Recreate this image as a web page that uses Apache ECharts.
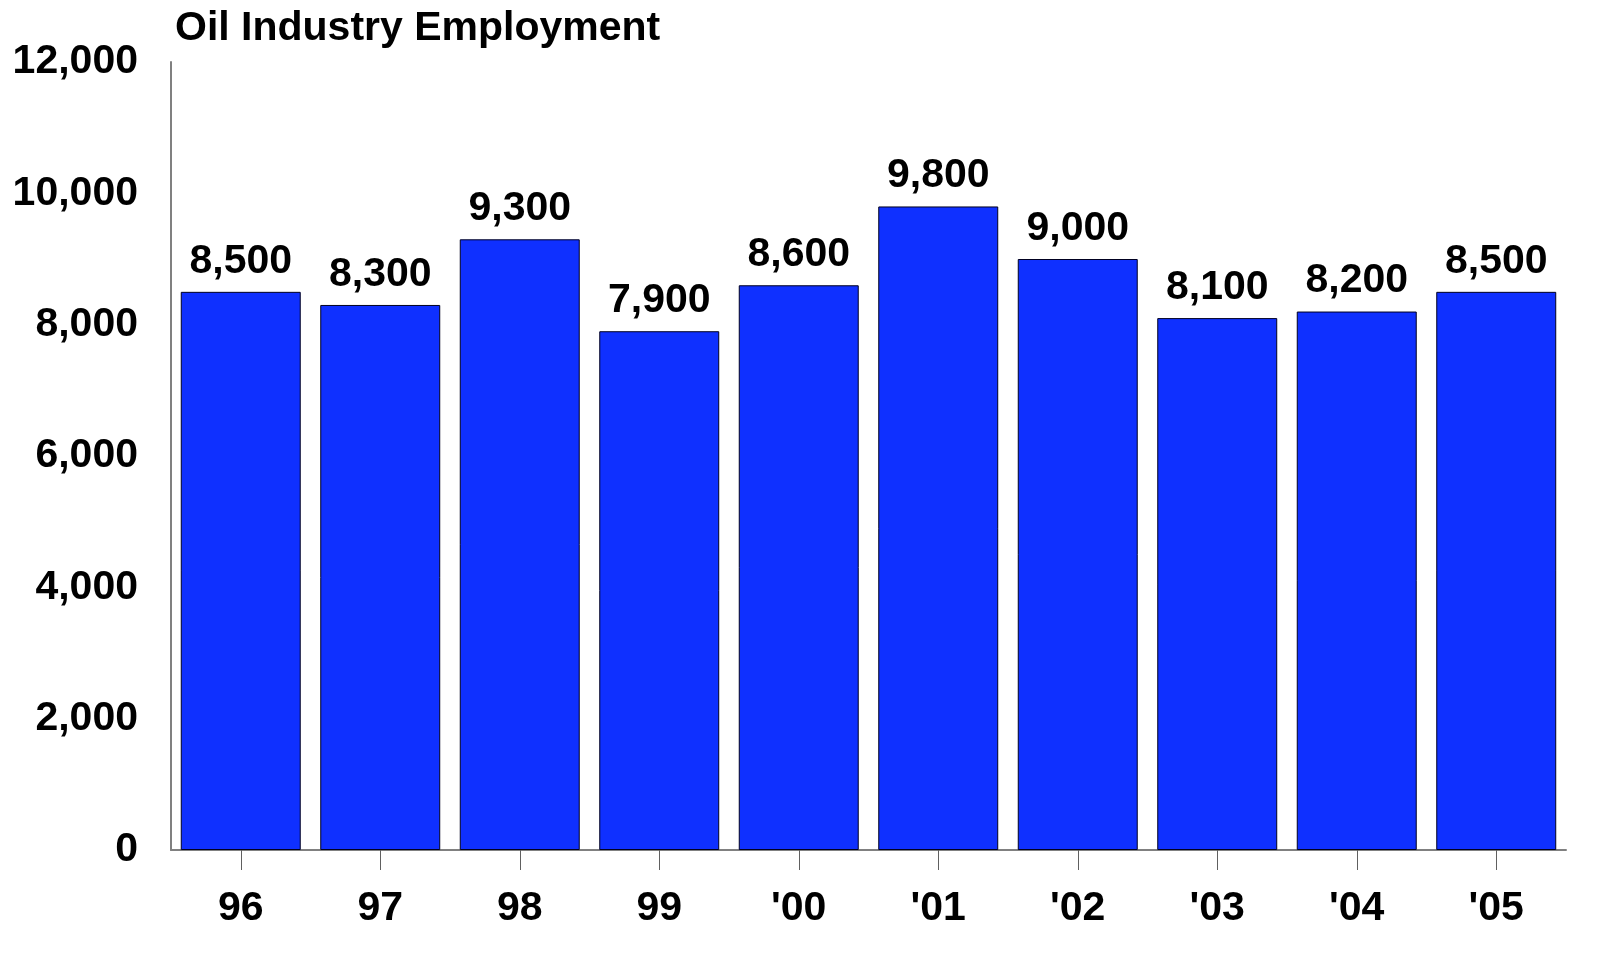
<!DOCTYPE html>
<html>
<head>
<meta charset="utf-8">
<script src="https://cdn.jsdelivr.net/npm/echarts@6/dist/echarts.min.js"></script>
<style>
html,body{margin:0;padding:0;background:#fff;}
#chart{width:1622px;height:958px;}
</style>
</head>
<body>
<div id="chart"></div>
<script>
const categories = ["96", "97", "98", "99", "'00", "'01", "'02", "'03", "'04", "'05"];
const employment = [8500, 8300, 9300, 7900, 8600, 9800, 9000, 8100, 8200, 8500];
const titleText = "Oil Industry Employment";

const fontFam = '"Liberation Sans", Arial, Helvetica, sans-serif';
const chart = echarts.init(document.getElementById('chart'));
chart.setOption({
  animation: false,
  backgroundColor: '#ffffff',
  title: {
    text: titleText,
    left: 170,
    top: 3,
    textStyle: { fontFamily: fontFam, fontWeight: 'bold', fontSize: 41, color: '#000' }
  },
  grid: { left: 171, right: 56, top: 62, bottom: 108 },
  xAxis: {
    type: 'category',
    data: categories,
    axisLine: { show: true, lineStyle: { color: '#808080', width: 2 } },
    axisTick: { show: true, alignWithLabel: true, length: 20, lineStyle: { color: '#606060', width: 1 } },
    axisLabel: { margin: 38, fontFamily: fontFam, fontWeight: 'bold', fontSize: 41, color: '#000' }
  },
  yAxis: {
    type: 'value',
    min: 0,
    max: 12000,
    interval: 2000,
    axisLine: { show: true, lineStyle: { color: '#808080', width: 2 } },
    axisTick: { show: false },
    splitLine: { show: false },
    axisLabel: {
      margin: 33,
      fontFamily: fontFam, fontWeight: 'bold', fontSize: 41, color: '#000',
      formatter: v => v.toLocaleString('en-US')
    }
  },
  series: [{
    type: 'bar',
    data: employment,
    barCategoryGap: '14%',
    itemStyle: { color: '#0f30ff', borderColor: '#000020', borderWidth: 1 },
    label: {
      show: true,
      position: 'top',
      distance: 10,
      fontFamily: fontFam, fontWeight: 'bold', fontSize: 41, color: '#000',
      formatter: p => p.value.toLocaleString('en-US')
    }
  }]
});
</script>
</body>
</html>
